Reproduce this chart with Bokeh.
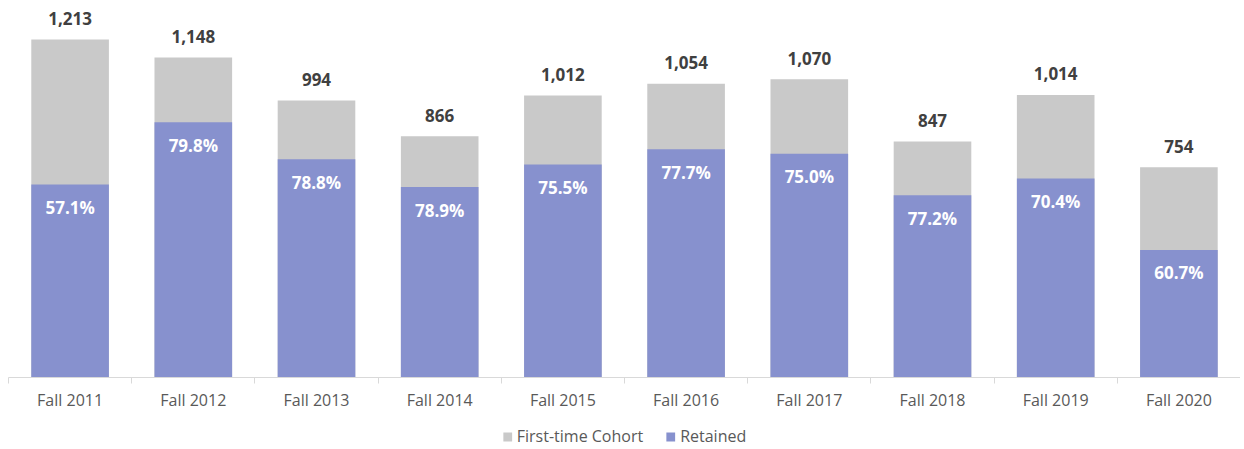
import numpy as np
from bokeh.plotting import figure
from bokeh.layouts import column
from bokeh.models import ColumnDataSource, Range1d, FixedTicker, Legend, LegendItem, LabelSet
from bokeh.core.properties import value
from bokeh.embed import file_html
from bokeh.resources import INLINE

categories = ["Fall 2011", "Fall 2012", "Fall 2013", "Fall 2014", "Fall 2015",
              "Fall 2016", "Fall 2017", "Fall 2018", "Fall 2019", "Fall 2020"]
cohort = [1213, 1148, 994, 866, 1012, 1054, 1070, 847, 1014, 754]
retained_pct = [57.1, 79.8, 78.8, 78.9, 75.5, 77.7, 75.0, 77.2, 70.4, 60.7]
series_names = ["First-time Cohort", "Retained"]

FONT = "Open Sans"
GREY = "#c9c9c9"
BLUE = "#8791ce"

x = np.arange(len(categories)) + 0.5
cohort_arr = np.array(cohort, dtype=float)
retained = cohort_arr * np.array(retained_pct) / 100.0

src = ColumnDataSource(dict(
    x=x,
    cohort=cohort_arr,
    retained=retained,
    cohort_lbl=[f"{v:,}" for v in cohort],
    pct_lbl=[f"{v:.1f}%" for v in retained_pct],
))

p = figure(width=1240, height=425, output_backend="svg", toolbar_location=None,
           x_range=Range1d(0, len(categories)), y_range=Range1d(0, 1324),
           min_border_left=8, min_border_right=0, min_border_top=8,
           min_border_bottom=48, y_axis_location=None)
p.outline_line_color = None
p.xgrid.visible = False
p.ygrid.visible = False

p.vbar(x="x", top="cohort", width=0.63, source=src, fill_color=GREY, line_color=None)
p.vbar(x="x", top="retained", width=0.63, source=src, fill_color=BLUE, line_color=None)

p.add_layout(LabelSet(x="x", y="cohort", text="cohort_lbl", source=src,
                      text_align="center", text_baseline="middle", y_offset=21,
                      text_font=value(FONT), text_font_size="17px", text_font_style="bold",
                      text_color="#404040"))
p.add_layout(LabelSet(x="x", y="retained", text="pct_lbl", source=src,
                      text_align="center", text_baseline="middle", y_offset=-23,
                      text_font=value(FONT), text_font_size="17px", text_font_style="bold",
                      text_color="white"))

ax = p.xaxis[0]
ax.ticker = FixedTicker(ticks=list(x), minor_ticks=list(range(len(categories) + 1)))
ax.major_label_overrides = {float(xi): c for xi, c in zip(x, categories)}
ax.major_tick_out = 0
ax.major_tick_in = 0
ax.minor_tick_out = 6
ax.minor_tick_in = 0
ax.minor_tick_line_color = "#d9d9d9"
ax.axis_line_color = "#d9d9d9"
ax.major_label_text_font = FONT
ax.major_label_text_font_size = "16px"
ax.major_label_text_color = "#595959"
ax.major_label_standoff = 5

# legend strip (swatch renderers hold one point placed outside the visible range)
lf = figure(width=1240, height=22, output_backend="svg", toolbar_location=None,
            x_range=Range1d(0, 1), y_range=Range1d(0, 1),
            min_border_left=8, min_border_right=0, min_border_top=0, min_border_bottom=0,
            x_axis_location=None, y_axis_location=None)
lf.outline_line_color = None
lf.xgrid.visible = False
lf.ygrid.visible = False
hidden = ColumnDataSource(dict(x=[50.0], top=[50.0], bottom=[40.0]))
g1 = lf.vbar(x="x", top="top", bottom="bottom", width=0.1, source=hidden,
             fill_color=GREY, line_color=None)
g2 = lf.vbar(x="x", top="top", bottom="bottom", width=0.1, source=hidden,
             fill_color=BLUE, line_color=None)

legend = Legend(items=[LegendItem(label=series_names[0], renderers=[g1]),
                       LegendItem(label=series_names[1], renderers=[g2])],
                orientation="horizontal", location="center")
legend.border_line_color = None
legend.background_fill_color = None
legend.label_text_font = FONT
legend.label_text_font_size = "16px"
legend.label_text_color = "#595959"
legend.glyph_width = 11
legend.glyph_height = 11
legend.spacing = 22
legend.padding = 0
legend.margin = 0
legend.label_standoff = 4
lf.add_layout(legend)

layout = column(p, lf, spacing=0)
open("out.html", "w").write(file_html(layout, INLINE))
